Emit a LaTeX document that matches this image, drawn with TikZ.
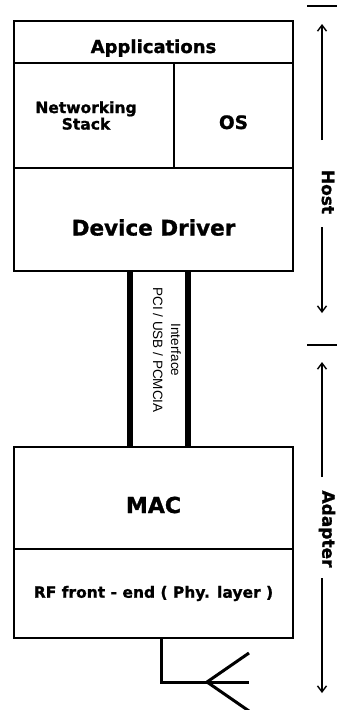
\documentclass[tikz,border=0pt]{standalone}
\usepackage{fontspec}
\setmainfont{DejaVu Sans}[BoldFeatures={FakeBold=1.2}]
\newfontfamily\busfont{Liberation Sans}
\usetikzlibrary{arrows.meta}

\begin{document}
\begin{tikzpicture}[x=1pt, y=-1pt,
  layer/.style={draw, line width=1.6pt, inner sep=0pt, align=center},
  drop/.style={text height=#1, text depth=0pt},
  big/.style={font=\fontsize{#1}{#1}\selectfont\bfseries},
  bar/.style={line width=6pt},
  side/.style={rotate=-90, inner sep=0pt, font=\fontsize{17}{17}\selectfont\bfseries},
  span/.style={line width=1.6pt, -{Straight Barb[length=6pt, width=9pt, line width=1.4pt]}},
  antenna/.style={line width=3pt}
]
\useasboundingbox (0,0) rectangle (337,710);

\node[layer, big=18, drop=22pt, minimum width=279pt, minimum height=42pt]  (apps) at (153.5,42)    {Applications};
\node[layer, big=15.5, minimum width=160pt, minimum height=105pt]         (net)  at (94,115.5)
    {Networking\hspace*{16pt}\\[1pt]Stack\hspace*{16pt}};
\node[layer, big=18.5, drop=27pt, minimum width=119pt, minimum height=105pt] (os) at (233.5,115.5) {OS};
\node[layer, big=21.5, drop=32pt, minimum width=279pt, minimum height=103pt] (drv) at (153.5,219.5) {Device Driver};

\node[layer, big=22, drop=30pt, minimum width=279pt, minimum height=102pt]  (mac)  at (153.5,498)   {MAC};
\node[layer, big=15.5, minimum width=279pt, minimum height=89pt]           (rf)   at (153.5,593.5) {RF front - end ( Phy. layer )};

\coordinate (busL) at (130,0);
\coordinate (busR) at (188,0);
\draw[bar] (drv.south -| busL) -- (mac.north -| busL);
\draw[bar] (drv.south -| busR) -- (mac.north -| busR);
\node[rotate=-90, align=center, inner sep=0pt, font=\busfont\fontsize{13.5}{18}\selectfont] (bus) at (167,350)
    {Interface\\PCI / USB / PCMCIA};

\coordinate (feed) at (161,0);
\coordinate (fork) at (207,682);
\draw[antenna] (rf.south -| feed) |- (fork) -- ++(42,0);
\draw[antenna] (fork) -- ++(42,-29);
\draw[antenna] (fork) -- ++(42,29);

\draw[line width=1.6pt] (307,6) -- (337,6);
\draw[line width=1.6pt] (307,345) -- (337,345);

\node[side] (host) at (328,192) {Host};
\coordinate (hostTop) at (322,24);
\coordinate (hostA)   at (322,140);
\coordinate (hostB)   at (322,227);
\coordinate (hostBot) at (322,313);
\draw[span] (hostA) -- (hostTop);
\draw[span] (hostB) -- (hostBot);

\node[side] (adapter) at (327,529) {Adapter};
\coordinate (adTop) at (322,362);
\coordinate (adA)   at (322,477);
\coordinate (adB)   at (322,578);
\coordinate (adBot) at (322,693);
\draw[span] (adA) -- (adTop);
\draw[span] (adB) -- (adBot);
\end{tikzpicture}
\end{document}
